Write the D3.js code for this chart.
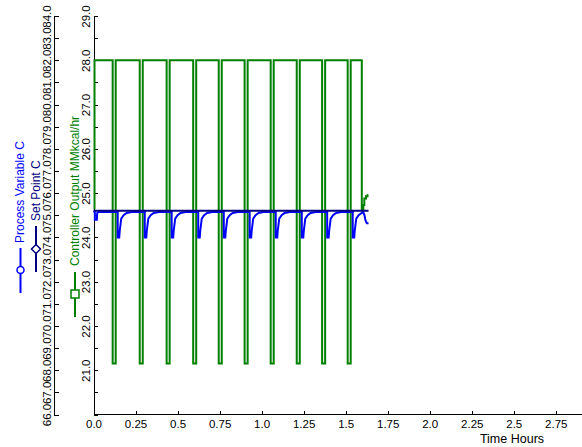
<!DOCTYPE html>
<html><head><meta charset="utf-8">
<script src="https://cdn.jsdelivr.net/npm/d3@7"></script>
<style>
body{margin:0;background:#fff;}
svg{display:block;font-family:"Liberation Sans",Arial,sans-serif;}
</style></head>
<body><svg id="c" width="582" height="447"></svg>
<script>
// ---- data ----
const timeTickValues = [0, 0.25, 0.5, 0.75, 1.0, 1.25, 1.5, 1.75, 2.0, 2.25, 2.5, 2.75];
const timeTickLabels = ["0.0","0.25","0.5","0.75","1.0","1.25","1.5","1.75","2.0","2.25","2.5","2.75"];
const pvTickValues = [66,67,68,69,70,71,72,73,74,75,76,77,78,79,80,81,82,83,84];
const coTickValues = [20,20.5,21,21.5,22,22.5,23,23.5,24,24.5,25,25.5,26,26.5,27,27.5,28,28.5,29];
const coLabelValues = [21,22,23,24,25,26,27,28,29];

const spTimes = [0, 1.636];
const spValues = [75.2, 75.2];

const coTimes = [0, 0.006, 0.114, 0.132, 0.275, 0.293, 0.435, 0.453, 0.593, 0.611, 0.745, 0.763,
  0.899, 0.917, 1.054, 1.072, 1.209, 1.227, 1.360, 1.378, 1.512, 1.530,
  1.596, 1.605, 1.611, 1.621, 1.630, 1.636];
const coValues = [24.66, 28.0, 21.15, 28.0, 21.15, 28.0, 21.15, 28.0, 21.15, 28.0, 21.15, 28.0,
  21.15, 28.0, 21.15, 28.0, 21.15, 28.0, 21.15, 28.0, 21.15, 28.0,
  24.61, 24.73, 24.88, 24.93, 24.95, 24.95];

const pvTimes = [
  0, 0.008, 0.008, 0.020, 0.022, 0.030,
  0.144, 0.144, 0.153, 0.156, 0.165, 0.179, 0.197, 0.227,
  0.305, 0.305, 0.314, 0.317, 0.326, 0.340, 0.358, 0.388,
  0.465, 0.465, 0.474, 0.477, 0.486, 0.500, 0.518, 0.548,
  0.623, 0.623, 0.632, 0.635, 0.644, 0.658, 0.676, 0.706,
  0.775, 0.775, 0.784, 0.787, 0.796, 0.810, 0.828, 0.858,
  0.929, 0.929, 0.938, 0.941, 0.950, 0.964, 0.982, 1.012,
  1.084, 1.084, 1.093, 1.096, 1.105, 1.119, 1.137, 1.167,
  1.239, 1.239, 1.248, 1.251, 1.260, 1.274, 1.292, 1.322,
  1.390, 1.390, 1.399, 1.402, 1.411, 1.425, 1.443, 1.473,
  1.542, 1.542, 1.551, 1.554, 1.563, 1.577, 1.595, 1.604, 1.612, 1.618, 1.626, 1.636
];
const pvValues = [
  75.15, 75.15, 74.8, 74.8, 75.1, 75.15,
  75.15, 74.0, 74.0, 74.3, 74.85, 75.0, 75.1, 75.15,
  75.15, 74.0, 74.0, 74.3, 74.85, 75.0, 75.1, 75.15,
  75.15, 74.0, 74.0, 74.3, 74.85, 75.0, 75.1, 75.15,
  75.15, 74.0, 74.0, 74.3, 74.85, 75.0, 75.1, 75.15,
  75.15, 74.0, 74.0, 74.3, 74.85, 75.0, 75.1, 75.15,
  75.15, 74.0, 74.0, 74.3, 74.85, 75.0, 75.1, 75.15,
  75.15, 74.0, 74.0, 74.3, 74.85, 75.0, 75.1, 75.15,
  75.15, 74.0, 74.0, 74.3, 74.85, 75.0, 75.1, 75.15,
  75.15, 74.0, 74.0, 74.3, 74.85, 75.0, 75.1, 75.15,
  75.15, 74.0, 74.0, 74.3, 74.85, 75.0, 75.1, 75.15, 75.0, 74.77, 74.64, 74.64
];

const seriesNames = ["Process Variable C", "Set Point C", "Controller Output MMkcal/hr"];
const xTitle = "Time Hours";

// ---- layout ----
const svg = d3.select("#c");
const FONT = "Liberation Sans, Arial, sans-serif";
const x = d3.scaleLinear().domain([0, 2.9]).range([93.5, 581]);
const yPV = d3.scaleLinear().domain([66, 84]).range([414.5, 16]);
const yCO = d3.scaleLinear().domain([20, 29]).range([414.5, 16]);

// x axis
const gx = svg.append("g").attr("transform", "translate(0,414.5)")
  .call(d3.axisBottom(x).tickValues(timeTickValues)
    .tickFormat((d, i) => timeTickLabels[i]).tickSizeInner(-4).tickSizeOuter(0).tickPadding(5));
gx.selectAll("text").attr("font-size", 11.5).attr("font-family", FONT).attr("fill", "#000");
gx.selectAll("line,path").attr("stroke", "#000").attr("shape-rendering", "crispEdges");
gx.select(".domain").attr("d", "M93.5,0H582");

svg.append("text").attr("x", 512).attr("y", 443).attr("text-anchor", "middle")
  .attr("font-size", 12.5).attr("fill", "#000").text(xTitle);

// inner (controller output) axis
const gco = svg.append("g").attr("transform", "translate(93.5,0)")
  .call(d3.axisLeft(yCO).tickValues(coTickValues)
    .tickFormat(d => coLabelValues.includes(d) ? d3.format(".1f")(d) : "")
    .tickSizeInner(-4).tickSizeOuter(0).tickPadding(0));
gco.selectAll("line,path").attr("stroke", "#000").attr("shape-rendering", "crispEdges");
gco.selectAll("text").attr("x", 0).attr("y", -3.5).attr("dy", 0)
  .attr("transform", "rotate(-90)").attr("text-anchor", "middle")
  .attr("font-size", 11.5).attr("font-family", FONT).attr("fill", "#000");

// outer (process variable) axis
const gpv = svg.append("g").attr("transform", "translate(53.5,0)")
  .call(d3.axisLeft(yPV).tickValues(pvTickValues).tickFormat(d3.format(".1f"))
    .tickSizeInner(-5).tickSizeOuter(0).tickPadding(0));
gpv.selectAll("line,path").attr("stroke", "#000").attr("shape-rendering", "crispEdges");
gpv.selectAll("text").attr("x", 0).attr("y", -3).attr("dy", 0)
  .attr("transform", "rotate(-90)").attr("text-anchor", "middle")
  .attr("font-size", 11.5).attr("font-family", FONT).attr("fill", "#000");

// series
const coData = coTimes.map((t, i) => [t, coValues[i]]);
const pvData = pvTimes.map((t, i) => [t, pvValues[i]]);
const spData = spTimes.map((t, i) => [t, spValues[i]]);

svg.append("path").datum(coData)
  .attr("d", d3.line().x(d => x(d[0])).y(d => yCO(d[1])).curve(d3.curveStepAfter))
  .attr("fill", "none").attr("stroke", "#008000").attr("stroke-width", 2);
svg.append("path").datum(pvData)
  .attr("d", d3.line().x(d => x(d[0])).y(d => yPV(d[1])))
  .attr("fill", "none").attr("stroke", "#0000ff").attr("stroke-width", 2);
svg.append("path").datum(spData)
  .attr("d", d3.line().x(d => x(d[0])).y(d => yPV(d[1])))
  .attr("fill", "none").attr("stroke", "#000080").attr("stroke-width", 2);

// legend (rotated)
const leg = svg.append("g").attr("font-family", FONT).attr("font-size", 12);
// Process Variable
leg.append("line").attr("x1", 20.5).attr("x2", 20.5).attr("y1", 248).attr("y2", 293)
  .attr("stroke", "#0000ff").attr("stroke-width", 2);
leg.append("circle").attr("cx", 20.5).attr("cy", 270).attr("r", 3.5)
  .attr("fill", "#fff").attr("stroke", "#0000ff").attr("stroke-width", 1.5);
leg.append("text").attr("transform", "translate(24,243) rotate(-90)")
  .attr("fill", "#0000ff").text(seriesNames[0]);
// Set Point
leg.append("line").attr("x1", 36).attr("x2", 36).attr("y1", 226).attr("y2", 272)
  .attr("stroke", "#000080").attr("stroke-width", 2);
leg.append("path").attr("d", "M36,244.5L40.5,249L36,253.5L31.5,249Z")
  .attr("fill", "#fff").attr("stroke", "#000080").attr("stroke-width", 1.5);
leg.append("text").attr("transform", "translate(39.5,221) rotate(-90)")
  .attr("fill", "#000080").text(seriesNames[1]);
// Controller Output
leg.append("line").attr("x1", 75).attr("x2", 75).attr("y1", 272).attr("y2", 317)
  .attr("stroke", "#008000").attr("stroke-width", 2);
leg.append("rect").attr("x", 71).attr("y", 290).attr("width", 8).attr("height", 8)
  .attr("fill", "#fff").attr("stroke", "#008000").attr("stroke-width", 1.5);
leg.append("text").attr("transform", "translate(78.5,266) rotate(-90)")
  .attr("fill", "#008000").text(seriesNames[2]);
</script>
</body></html>
